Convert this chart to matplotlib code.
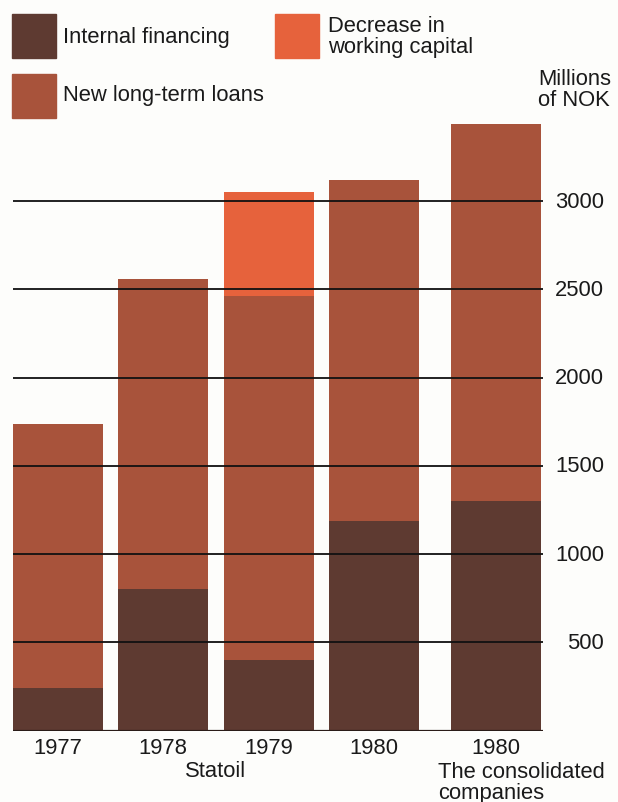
import matplotlib.pyplot as plt
from matplotlib.patches import Rectangle
from matplotlib.transforms import blended_transform_factory

plt.rcParams['font.family'] = ['Liberation Sans', 'DejaVu Sans']

# Statoil financing, millions of NOK
labels = ['1977', '1978', '1979', '1980', '1980']
positions = [0, 1, 2, 3, 4.156]
internal = [240, 800, 400, 1190, 1300]
loans = [1500, 1760, 2060, 1930, 2140]
working_cap = [0, 0, 590, 0, 0]
ticks = [500, 1000, 1500, 2000, 2500, 3000]

C_INTERNAL = '#5e3a31'
C_LOANS = '#a8533b'
C_WORKING = '#e6623c'
BG = '#fdfdfb'
TXT = '#1a1a1a'
FS = 15.8

W, H = 618, 803
fig = plt.figure(figsize=(W / 100, H / 100), dpi=100, facecolor=BG)

# axes box in pixel terms: x from 12.5 to 543, y from 731.5 (zero) upward
x0, x1 = 12.5, 543
y0, y1 = 731.5, 114
ax = fig.add_axes([x0 / W, (H - y0) / H, (x1 - x0) / W, (y0 - y1) / H])
ax.set_facecolor('none')
ax.set_xlim(-0.427, 4.602)
ax.set_ylim(0, 3500)

bw = 0.853
ax.bar(positions, internal, width=bw, color=C_INTERNAL, zorder=1)
ax.bar(positions, loans, width=bw, bottom=internal, color=C_LOANS, zorder=1)
tops = [i + l for i, l in zip(internal, loans)]
ax.bar(positions, working_cap, width=bw, bottom=tops, color=C_WORKING, zorder=1)

for t in ticks:
    ax.axhline(t, color='#111111', lw=1.3, zorder=3)
ax.axhline(0, color='#2a1c18', lw=1.6, zorder=3)

for s in ax.spines.values():
    s.set_visible(False)

# value labels on the right, right-aligned
ax.set_yticks([])
trans = blended_transform_factory(fig.transFigure, ax.transData)
for t in ticks:
    ax.text(604 / W, t, str(t), transform=trans, fontsize=FS, color=TXT,
            ha='right', va='center')

ax.set_xticks(positions)
ax.set_xticklabels(labels, fontsize=FS, color=TXT)
ax.tick_params(axis='x', length=0, pad=5)

# group captions under the years
fig.text(216 / W, 1 - 772 / H, 'Statoil', fontsize=FS, color=TXT,
         ha='center', va='center')
fig.text(438 / W, 1 - 783 / H, 'The consolidated\ncompanies', fontsize=FS,
         color=TXT, ha='left', va='center', linespacing=0.95)

fig.text(538 / W, 1 - 90 / H, 'Millions\nof NOK', fontsize=FS, color=TXT,
         ha='left', va='center', linespacing=0.95)

# legend swatches
legend_items = [
    (12, 15, C_INTERNAL, 'Internal financing', 63, 38),
    (12, 75, C_LOANS, 'New long-term loans', 63, 96),
    (275, 15, C_WORKING, 'Decrease in\nworking capital', 328, 37),
]
for lx, ly, col, txt, tx, ty in legend_items:
    fig.patches.append(Rectangle((lx / W, 1 - (ly + 44) / H), 44 / W, 44 / H,
                                 transform=fig.transFigure, color=col))
    fig.text(tx / W, 1 - ty / H, txt, fontsize=FS, color=TXT,
             ha='left', va='center', linespacing=0.95)

fig.savefig('out.png', dpi=100, facecolor=BG)
